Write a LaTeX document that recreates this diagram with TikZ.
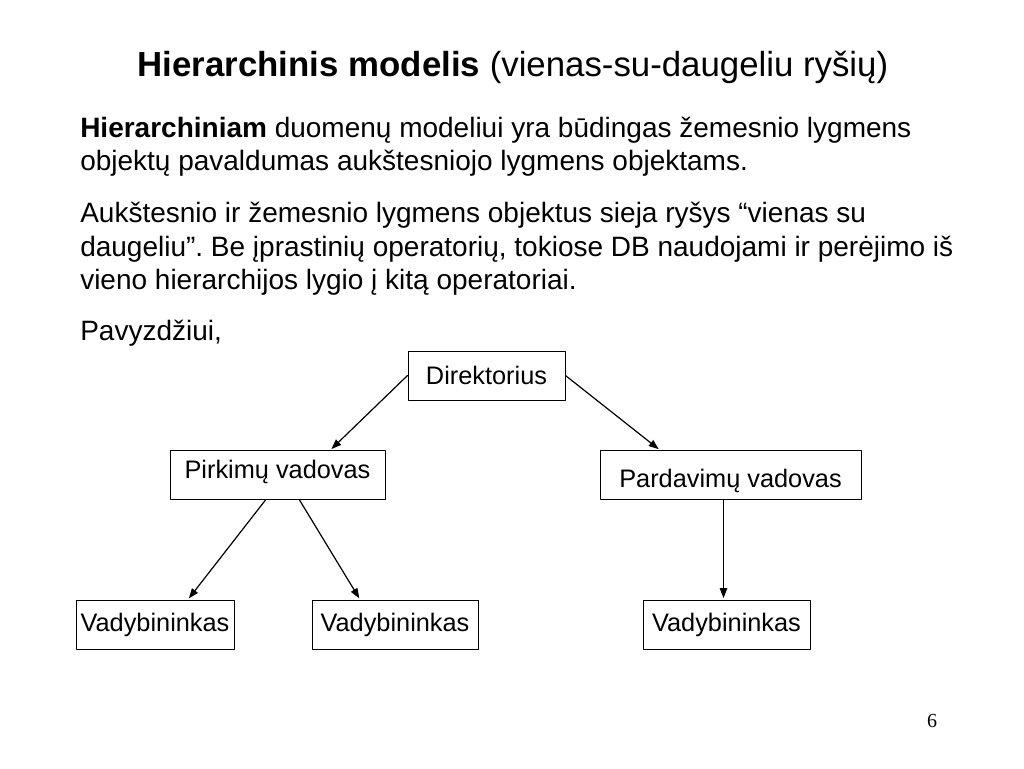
\documentclass[tikz,border=0pt]{standalone}
\usepackage{fontspec}
\setmainfont{Liberation Sans}
\newfontfamily\pagenumfont{Liberation Serif}
\usetikzlibrary{arrows.meta,calc,positioning}
\frenchspacing

\begin{document}
\begin{tikzpicture}[
  x=0.75pt, y=-0.75pt,
  line cap=round,
  line join=round,
  box/.style={draw=black, line width=0.75pt, minimum height=36.75pt, inner sep=0pt, font=\fontsize{19}{22}\selectfont},
  link/.style={-{Triangle[length=7.5pt,width=5.5pt]}, line width=0.9pt, draw=black, shorten >=1pt},
  titletext/.style={anchor=base, inner sep=0pt, font=\fontsize{26.1}{30}\selectfont},
  bodyline/.style={anchor=base west, inner sep=0pt, font=\fontsize{21}{25}\selectfont}
]

\useasboundingbox (0,0) rectangle (1024,768);

% Title and explanation.
\node[titletext] (title) at (513,76) {\textbf{Hierarchinis modelis} (vienas-su-daugeliu ryšių)};

\node[bodyline] (lineA) at (80,137) {\textbf{Hierarchiniam} duomenų modeliui yra būdingas žemesnio lygmens};
\node[bodyline] (lineB) at (80,170) {objektų pavaldumas aukštesniojo lygmens objektams.};
\node[bodyline] (lineC) at (80,222) {Aukštesnio ir žemesnio lygmens objektus sieja ryšys “vienas su};
\node[bodyline] (lineD) at (80,256) {daugeliu”. Be įprastinių operatorių, tokiose DB naudojami ir perėjimo iš};
\node[bodyline] (lineE) at (80,289) {vieno hierarchijos lygio į kitą operatoriai.};
\node[bodyline] (lineF) at (80,340) {Pavyzdžiui,};

% Hierarchy boxes.
\node[box, minimum width=117.75pt] (direktorius) at (486.5,375.5) {Direktorius};
\node[box, minimum width=161.25pt, text depth=9pt] (pirkimai) at (277.5,475) {Pirkimų vadovas};
\node[box, minimum width=195.75pt, text height=22pt] (pardavimai) at (730.5,475) {Pardavimų vadovas\hspace{10pt}};
\node[box, minimum width=118.5pt] (vadybA) at (155,624.5) {Vadybininkas};
\node[box, minimum width=124.5pt] (vadybB) at (395,624.5) {Vadybininkas};
\node[box, minimum width=125.25pt] (vadybC) at (726.5,624.5) {Vadybininkas};

% One-to-many links.
\draw[link] (direktorius.west) -- ($(pirkimai.north)!0.49!(pirkimai.north east)$);
\draw[link] (direktorius.east) -- ($(pardavimai.north west)!0.46!(pardavimai.north)$);
\draw[link] ($(pirkimai.south)+(-12,0)$) -- ($(vadybA.north)+(33,0)$);
\draw[link] ($(pirkimai.south)+(22,0)$) -- ($(vadybB.north)+(-35,0)$);
\draw[link] ($(pardavimai.south)+(-7,0)$) -- ($(vadybC.north)+(-3,0)$);

% Slide number.
\node[anchor=base, inner sep=0pt, font=\pagenumfont\fontsize{15}{18}\selectfont] (pagenum) at (932,727) {6};

\end{tikzpicture}
\end{document}
